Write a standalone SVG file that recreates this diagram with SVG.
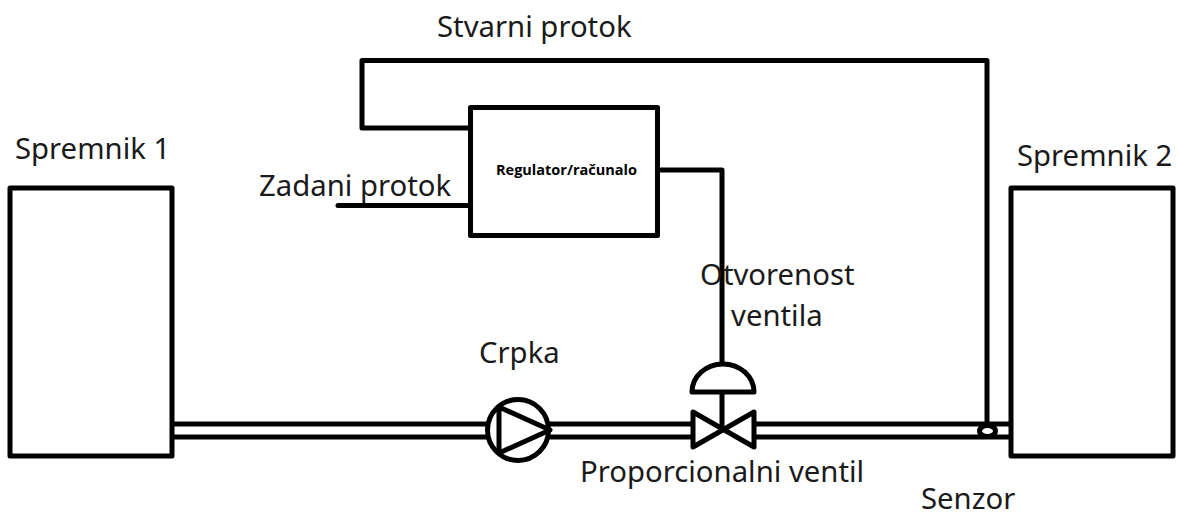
<svg xmlns="http://www.w3.org/2000/svg" width="1179" height="518" viewBox="0 0 1179 518">
<style>
.s{fill:#fff;stroke:#000;stroke-width:5;stroke-linejoin:round;stroke-linecap:round}
.l{fill:none;stroke:#000;stroke-width:5;stroke-linejoin:round;stroke-linecap:round}
.t{font-family:"Noto Sans","Open Sans",sans-serif;font-size:29.3px;fill:#1a1a1a}
.b{font-family:"Open Sans","Noto Sans",sans-serif;font-size:14.500px;font-weight:700;fill:#000}
</style>
<rect width="1179" height="518" fill="#fff"/>
<g id="connectors">
<path class="l" d="M172 424H488M172 437H488M550 424H692M550 437H692M755 424H1010M755 437H1010"/>
<path class="l" d="M987 424V60.500H362V128H470"/>
<path class="l" d="M338 205.500H470"/>
<path class="l" d="M657 170H722V363M722 392V430"/>
</g>
<g id="tank1"><rect class="s" x="10" y="188" width="162" height="268"/><text class="t" x="15" y="159">Spremnik 1</text></g>
<g id="tank2"><rect class="s" x="1011" y="188" width="162" height="268"/><text class="t" x="1017" y="166">Spremnik 2</text></g>
<g id="regulator"><rect class="s" x="470.500" y="107.500" width="187" height="128"/><text class="b" x="496" y="175">Regulator/računalo</text></g>
<g id="pump"><circle class="s" cx="518" cy="430" r="30.500"/><path class="l" d="M499 407V453M499 407L550 430L499 453"/><text class="t" x="479" y="363">Crpka</text></g>
<g id="valve"><path class="s" d="M692 392A31 28 0 0 1 754 392Z"/><path class="l" d="M693 412V447L754 412V447Z"/><text class="t" x="580" y="482">Proporcionalni ventil</text></g>
<g id="sensor"><ellipse class="s" cx="987.500" cy="431" rx="8" ry="5.500"/><text class="t" x="921" y="509">Senzor</text></g>
<g id="labels"><text class="t" x="437" y="37">Stvarni protok</text><text class="t" x="259" y="196">Zadani protok</text><text class="t" x="700" y="285">Otvorenost</text><text class="t" x="731" y="326">ventila</text></g>
</svg>
